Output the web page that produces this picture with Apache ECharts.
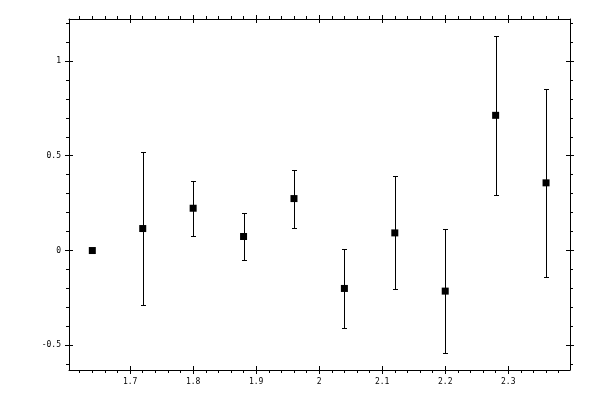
<!DOCTYPE html>
<html>
<head>
<meta charset="utf-8">
<script src="https://cdn.jsdelivr.net/npm/echarts@6/dist/echarts.min.js"></script>
<style>
html,body{margin:0;padding:0;background:#fff;}
#chart{width:600px;height:400px;}
</style>
</head>
<body>
<div id="chart"></div>
<script>
// Data
var xValues = [1.64, 1.72, 1.80, 1.88, 1.96, 2.04, 2.12, 2.20, 2.28, 2.36];
var yValues = [0, 0.116, 0.223, 0.074, 0.274, -0.200, 0.093, -0.214, 0.713, 0.357];
var yErrors = [0, 0.405, 0.144, 0.126, 0.153, 0.210, 0.298, 0.328, 0.418, 0.494];

// Tick labels
var xTickLabels = [1.7, 1.8, 1.9, 2.0, 2.1, 2.2, 2.3];
var yTickLabels = [-0.5, 0, 0.5, 1];
var xMinorTicks = [1.62, 1.64, 1.66, 1.68, 1.70, 1.72, 1.74, 1.76, 1.78, 1.80, 1.82, 1.84, 1.86, 1.88, 1.90,
  1.92, 1.94, 1.96, 1.98, 2.00, 2.02, 2.04, 2.06, 2.08, 2.10, 2.12, 2.14, 2.16, 2.18, 2.20,
  2.22, 2.24, 2.26, 2.28, 2.30, 2.32, 2.34, 2.36, 2.38];
var yMinorTicks = [-0.6, -0.5, -0.4, -0.3, -0.2, -0.1, 0, 0.1, 0.2, 0.3, 0.4, 0.5, 0.6, 0.7, 0.8, 0.9, 1.0, 1.1, 1.2];

var X_MIN = 1.603, X_MAX = 2.398, Y_MIN = -0.63, Y_MAX = 1.221;

var points = xValues.map(function (x, i) { return [x, yValues[i]]; });
var bars = xValues.map(function (x, i) { return [x, yValues[i] - yErrors[i], yValues[i] + yErrors[i]]; });

var lineStyle = { color: '#000', width: 1 };
var labelStyle = { color: '#000', fontSize: 8, fontFamily: 'DejaVu Sans Mono', margin: 8 };

function mainAxis(pos, minor, labels, isX) {
  return {
    type: 'value', position: pos,
    min: isX ? X_MIN : Y_MIN, max: isX ? X_MAX : Y_MAX,
    axisLine: { show: true, onZero: false, lineStyle: lineStyle },
    axisTick: { show: true, inside: false, length: 3, customValues: minor, lineStyle: lineStyle },
    axisLabel: labels ? Object.assign({ show: true, customValues: labels }, labelStyle) : { show: false },
    splitLine: { show: false }
  };
}
function majorAxis(pos, major, isX) {
  return {
    type: 'value', position: pos, offset: 4,
    min: isX ? X_MIN : Y_MIN, max: isX ? X_MAX : Y_MAX,
    axisLine: { show: false, onZero: false },
    axisTick: { show: true, inside: true, length: 8, customValues: major, lineStyle: lineStyle },
    axisLabel: { show: false },
    splitLine: { show: false }
  };
}

var chart = echarts.init(document.getElementById('chart'), null, { renderer: 'canvas' });
chart.setOption({
  animation: false,
  backgroundColor: '#fff',
  grid: { left: 69, top: 19, right: 30, bottom: 30, containLabel: false },
  xAxis: [
    mainAxis('bottom', xMinorTicks, xTickLabels, true),
    majorAxis('bottom', xTickLabels, true),
    mainAxis('top', xMinorTicks, null, true),
    majorAxis('top', xTickLabels, true)
  ],
  yAxis: [
    mainAxis('left', yMinorTicks, yTickLabels, false),
    majorAxis('left', yTickLabels, false),
    mainAxis('right', yMinorTicks, null, false),
    majorAxis('right', yTickLabels, false)
  ],
  series: [
    {
      type: 'custom',
      xAxisIndex: 0, yAxisIndex: 0,
      data: bars,
      renderItem: function (params, api) {
        var x = api.value(0);
        var lo = api.coord([x, api.value(1)]);
        var hi = api.coord([x, api.value(2)]);
        var cx = Math.round(lo[0]) + 0.5;
        var ylo = Math.round(lo[1]) + 0.5;
        var yhi = Math.round(hi[1]) + 0.5;
        var w = 2.5;
        var st = { stroke: '#000', lineWidth: 1 };
        return {
          type: 'group',
          children: [
            { type: 'line', shape: { x1: cx, y1: ylo, x2: cx, y2: yhi }, style: st },
            { type: 'line', shape: { x1: cx - w, y1: yhi, x2: cx + w, y2: yhi }, style: st },
            { type: 'line', shape: { x1: cx - w, y1: ylo, x2: cx + w, y2: ylo }, style: st }
          ]
        };
      },
      z: 2
    },
    {
      type: 'scatter',
      xAxisIndex: 0, yAxisIndex: 0,
      data: points,
      symbol: 'rect',
      symbolSize: 7,
      itemStyle: { color: '#000', opacity: 1 },
      z: 3
    }
  ]
});
</script>
</body>
</html>
